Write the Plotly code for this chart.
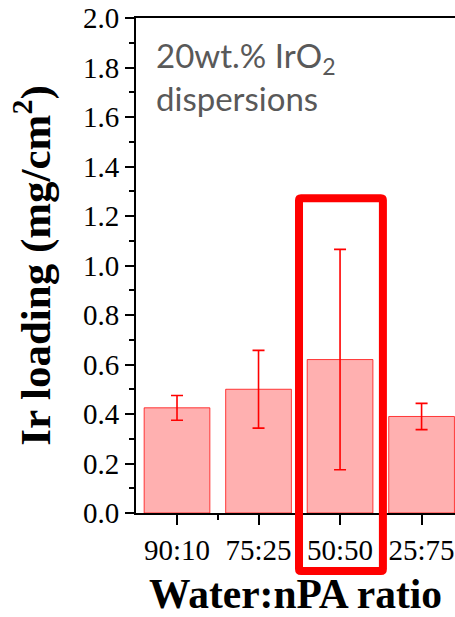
import plotly.graph_objects as go

categories = ["90:10", "75:25", "50:50", "25:75"]
loading = [0.425, 0.50, 0.62, 0.39]
loading_err = [0.05, 0.157, 0.445, 0.053]
y_ticks = [0.0, 0.2, 0.4, 0.6, 0.8, 1.0, 1.2, 1.4, 1.6, 1.8, 2.0]

xs = list(range(len(categories)))

fig = go.Figure()
fig.add_trace(go.Bar(
    x=xs, y=loading, width=0.806,
    marker=dict(color="rgba(255,0,0,0.31)", line=dict(color="rgba(255,0,0,0.75)", width=1)),
    error_y=dict(type="data", array=loading_err, visible=True, color="#ff0000", thickness=1.6, width=6),
    showlegend=False,
))

serif = "Liberation Serif, Times New Roman, serif"

# highlight box (paper coordinates) with slightly rounded corners
bx0, bx1, by0, by1 = 0.511, 0.774, -0.117, 0.636
rx, ry = 2.0 / 319, 2.0 / 495
box_path = (
    f"M {bx0 + rx},{by1} L {bx1 - rx},{by1} Q {bx1},{by1} {bx1},{by1 - ry} "
    f"L {bx1},{by0 + ry} Q {bx1},{by0} {bx1 - rx},{by0} "
    f"L {bx0 + rx},{by0} Q {bx0},{by0} {bx0},{by0 + ry} "
    f"L {bx0},{by1 - ry} Q {bx0},{by1} {bx0 + rx},{by1} Z"
)

fig.update_layout(
    width=455, height=617,
    margin=dict(l=136, r=0, t=18, b=104),
    paper_bgcolor="white", plot_bgcolor="white",
    font=dict(family=serif, color="black"),
    xaxis=dict(
        range=[-0.503, 3.41],
        tickmode="array", tickvals=xs, ticktext=categories,
        ticks="outside", ticklen=10, tickwidth=1.5, tickcolor="black",
        minor=dict(tickmode="array", tickvals=[i + 0.5 for i in xs[:-1]], ticks="outside", ticklen=5, tickwidth=1.5, tickcolor="black"),
        showline=True, linecolor="black", linewidth=1.8, mirror=True,
        showgrid=False, zeroline=False,
        tickfont=dict(family=serif, size=29, color="black"),
        title=dict(text="<b>Water:nPA ratio</b>", font=dict(family=serif, size=41.5, color="black"), standoff=14),
    ),
    yaxis=dict(
        range=[0, 2.0],
        tickmode="array", tickvals=y_ticks, tickformat=".1f",
        ticks="outside", ticklen=9, tickwidth=1.5, tickcolor="black",
        minor=dict(dtick=0.1, ticks="outside", ticklen=5, tickwidth=1.5, tickcolor="black"),
        showline=True, linecolor="black", linewidth=1.8,
        showgrid=False, zeroline=False,
        tickfont=dict(family=serif, size=29, color="black"),
        title=dict(text="<b>Ir loading (mg/cm<sup>2</sup>)</b>", font=dict(family=serif, size=43, color="black"), standoff=19),
    ),
    annotations=[dict(
        text="20wt.% IrO<sub>2</sub><br>dispersions",
        xref="paper", yref="paper", x=0.057, y=0.97, xanchor="left", yanchor="top",
        align="left", showarrow=False,
        font=dict(family="Lato, Carlito, Calibri, sans-serif", size=33, color="#595959"),
    )],
    shapes=[dict(
        type="path", xref="paper", yref="paper", path=box_path,
        line=dict(color="#ff0000", width=8),
    )],
)

fig.write_html(
    "out.html",
    config={"displayModeBar": False},
    post_script="document.body.style.margin='0';document.body.style.overflow='hidden';",
)
